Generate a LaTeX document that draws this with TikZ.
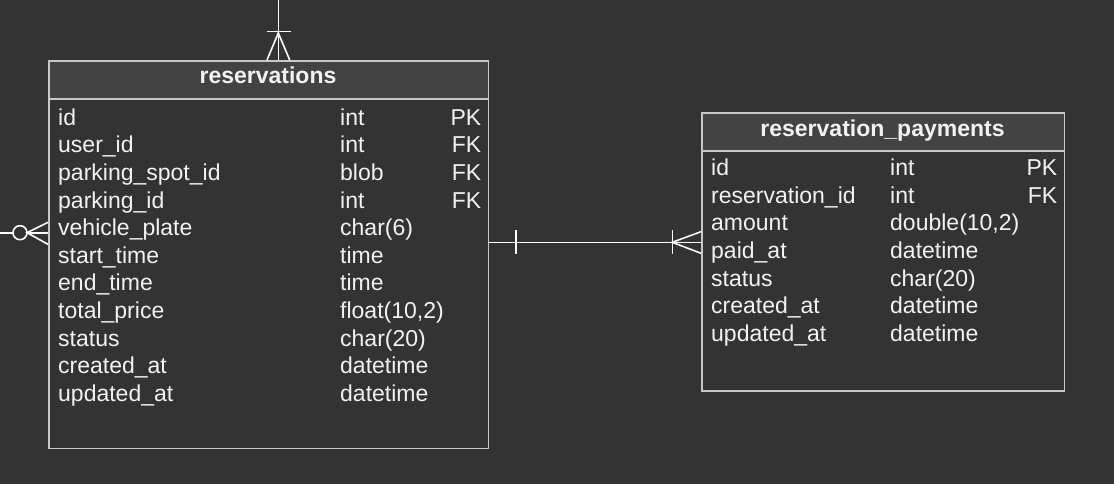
\documentclass[tikz,border=0pt]{standalone}
\usepackage{fontspec}
\setmainfont{Liberation Sans}
\definecolor{bgc}{HTML}{333333}
\definecolor{hdrc}{HTML}{434343}
\definecolor{bordc}{HTML}{C8C8C8}
\definecolor{txtc}{HTML}{F2F2F2}
\begin{document}
\begin{tikzpicture}[x=1pt,y=-1pt,
  tbl/.style={draw=bordc, line width=1.6pt, fill=bgc, inner sep=0pt, anchor=north west},
  hdr/.style={draw=bordc, line width=1.6pt, fill=hdrc, inner sep=0pt, anchor=north west},
  title/.style={anchor=base, inner sep=0pt, text=txtc, font=\bfseries\fontsize{23}{27}\selectfont},
  cell/.style={anchor=base west, inner sep=0pt, text=txtc, font=\fontsize{23}{27}\selectfont},
  keyc/.style={anchor=base east, inner sep=0pt, text=txtc, font=\fontsize{23}{27}\selectfont},
  conn/.style={draw=white, line width=1.6pt}]
\fill[bgc] (0,0) rectangle (1114,484);
\useasboundingbox (0,0) rectangle (1114,484);

% reservations table
\node[tbl, minimum width=439.5pt, minimum height=387.5pt] (res) at (48.3,60.2) {};
\node[hdr, minimum width=439.5pt, minimum height=38pt] (resh) at (48.3,60.2) {};
\node[title] (rest) at (268,84) {reservations};
\foreach \n/\t/\k [count=\i from 0] in {id/int/PK, user\_id/int/FK, parking\_spot\_id/blob/FK, parking\_id/int/FK, vehicle\_plate/char(6)/, start\_time/time/, end\_time/time/, total\_price/{float(10,2)}/, status/char(20)/, created\_at/datetime/, updated\_at/datetime/}{
  \node[cell] (rn\i) at (58,125.3+27.6*\i) {\n};
  \node[cell] (rt\i) at (340,125.3+27.6*\i) {\t};
  \node[keyc] (rk\i) at (481.5,125.3+27.6*\i) {\k};
}

% reservation_payments table
\node[tbl, minimum width=362.5pt, minimum height=277.5pt] (pay) at (701,112.5) {};
\node[hdr, minimum width=362.5pt, minimum height=38pt] (payh) at (701,112.5) {};
\node[title] (payt) at (882.5,136.5) {reservation\_payments};
\foreach \n/\t/\k [count=\i from 0] in {id/int/PK, reservation\_id/int/FK, amount/{double(10,2)}/, paid\_at/datetime/, status/char(20)/, created\_at/datetime/, updated\_at/datetime/}{
  \node[cell] (pn\i) at (711,175.3+27.7*\i) {\n};
  \node[cell] (pt\i) at (890,175.3+27.7*\i) {\t};
  \node[keyc] (pk\i) at (1057.5,175.3+27.7*\i) {\k};
}

% top connector (one-and-only-one to many)
\coordinate (topend) at (278.3,0);
\coordinate (topapex) at (278.3,33);
\draw[conn] (topend) -- (topend |- res.north);
\draw[conn] (266.5,31.5) -- (290.5,31.5);
\draw[conn] (267,60) -- (topapex) -- (289.7,60);

% left connector (zero or many)
\coordinate (leftend) at (0,232.7);
\coordinate (circc) at (20,232.7);
\coordinate (leftapex) at (27,232.7);
\draw[conn] (leftend) -- (12.8,232.7);
\draw[conn] (circc) circle[radius=7];
\draw[conn] (leftapex) -- (leftapex -| res.west);
\draw[conn] (48,222.3) -- (leftapex) -- (48,244.3);

% middle connector (one to many)
\coordinate (ma) at (res.east |- 0,242.3);
\coordinate (mb) at (pay.west |- 0,242.3);
\draw[conn] (ma) -- (mb);
\draw[conn] (516,230) -- (516,254.3);
\draw[conn] (672.3,230) -- (672.3,254.3);
\draw[conn] (701,231.7) -- (672.3,242.3) -- (701,253.3);
\end{tikzpicture}
\end{document}
